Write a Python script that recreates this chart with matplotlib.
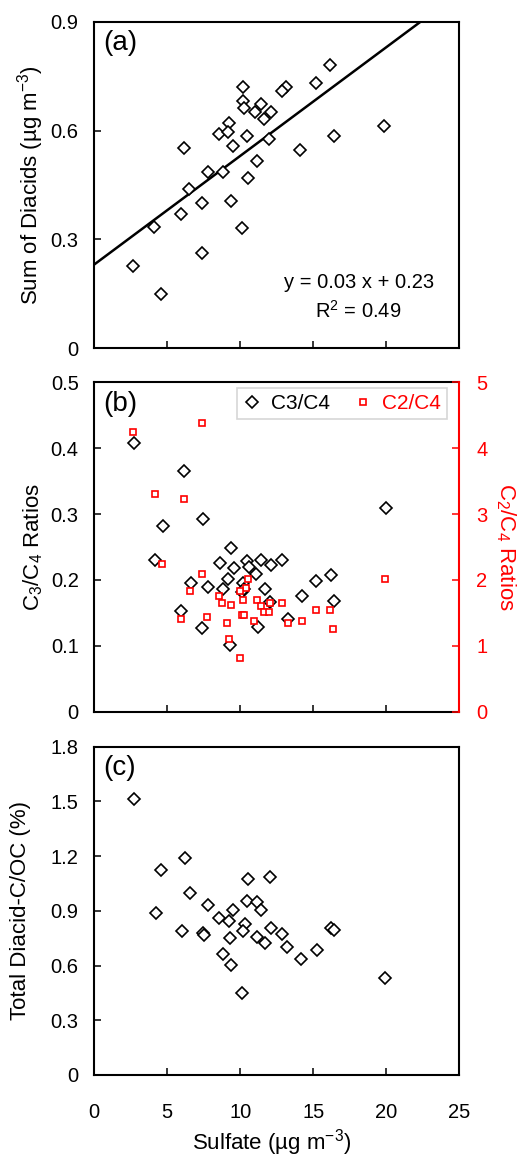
import matplotlib
matplotlib.use('Agg')
import matplotlib.pyplot as plt

plt.rcParams['font.family'] = ['Liberation Sans', 'DejaVu Sans']
plt.rcParams['mathtext.fontset'] = 'custom'
plt.rcParams['mathtext.rm'] = 'Liberation Sans'
plt.rcParams['mathtext.it'] = 'Liberation Sans:italic'
plt.rcParams['mathtext.bf'] = 'Liberation Sans:bold'
plt.rcParams['mathtext.default'] = 'regular'

# ---------------- data ----------------
# (a) Sum of diacids vs sulfate
sulfate_a = [16.17, 15.21, 10.16, 13.16, 12.86, 10.20, 10.27, 11.45, 11.04, 12.14,
             11.63, 9.24, 8.56, 9.17, 10.47, 11.97, 6.15, 9.52, 19.81, 16.39,
             14.12, 11.16, 7.81, 8.79, 10.54, 6.49, 7.42, 9.34, 5.92, 4.12,
             10.09, 7.42, 2.64, 4.58]
diacids_a = [0.780, 0.730, 0.719, 0.719, 0.709, 0.681, 0.663, 0.672, 0.650, 0.652,
             0.632, 0.621, 0.590, 0.595, 0.586, 0.576, 0.553, 0.558, 0.613, 0.586,
             0.546, 0.517, 0.486, 0.486, 0.470, 0.438, 0.401, 0.405, 0.370, 0.335,
             0.330, 0.261, 0.226, 0.148]
fit_slope = 0.03
fit_intercept = 0.23
fit_x = [0.0, 25.0]

# (b) C3/C4 ratios
sulfate_c3 = [2.75, 6.17, 19.95, 7.47, 4.69, 9.40, 4.17, 8.61, 10.47, 11.41,
              12.89, 12.09, 9.56, 10.61, 11.07, 9.17, 16.24, 15.21, 6.63, 10.16,
              7.81, 8.79, 11.73, 10.09, 10.25, 14.25, 12.02, 16.41, 5.94, 13.26,
              7.42, 11.22, 9.29]
c3c4 = [0.408, 0.365, 0.309, 0.292, 0.282, 0.248, 0.231, 0.226, 0.229, 0.231,
        0.231, 0.223, 0.218, 0.220, 0.209, 0.202, 0.207, 0.198, 0.196, 0.196,
        0.189, 0.186, 0.187, 0.182, 0.187, 0.176, 0.167, 0.168, 0.153, 0.141,
        0.127, 0.128, 0.102]
# (b) C2/C4 ratios (right axis)
sulfate_c2 = [2.69, 7.40, 4.17, 6.13, 4.64, 7.40, 19.88, 10.52, 6.60, 10.38,
              10.02, 8.56, 10.20, 11.18, 8.74, 9.34, 12.07, 12.84, 11.39, 11.61,
              11.97, 15.21, 16.17, 5.92, 7.74, 10.09, 10.25, 9.13, 10.94, 13.24,
              14.23, 16.37, 9.24, 10.02]
c2c4 = [4.25, 4.38, 3.30, 3.23, 2.25, 2.09, 2.01, 2.01, 1.84, 1.88,
        1.83, 1.76, 1.69, 1.70, 1.65, 1.62, 1.65, 1.65, 1.60, 1.51,
        1.51, 1.55, 1.55, 1.41, 1.44, 1.47, 1.47, 1.34, 1.37, 1.34,
        1.37, 1.25, 1.10, 0.82]

# (c) Total diacid-C / OC (%)
sulfate_c = [2.73, 6.22, 4.58, 10.50, 12.02, 6.60, 7.81, 10.47, 11.16, 9.52,
             11.41, 4.21, 8.56, 9.22, 10.31, 10.20, 12.09, 12.86, 16.19, 16.42,
             5.99, 7.47, 7.54, 9.29, 11.18, 11.73, 13.21, 15.28, 8.79, 14.19,
             9.40, 19.90, 10.09]
diacid_oc = [1.511, 1.191, 1.124, 1.075, 1.084, 0.996, 0.932, 0.956, 0.947, 0.905,
             0.905, 0.886, 0.859, 0.844, 0.828, 0.789, 0.804, 0.773, 0.804, 0.795,
             0.789, 0.777, 0.768, 0.749, 0.758, 0.722, 0.700, 0.685, 0.662, 0.634,
             0.603, 0.534, 0.451]

x_ticks = [0, 5, 10, 15, 20, 25]
x_ticklabels = ['0', '5', '10', '15', '20', '25']
ya_ticks = [0, 0.3, 0.6, 0.9]
ya_ticklabels = ['0', '0.3', '0.6', '0.9']
yb_ticks = [0, 0.1, 0.2, 0.3, 0.4, 0.5]
yb_ticklabels = ['0', '0.1', '0.2', '0.3', '0.4', '0.5']
yb2_ticks = [0, 1, 2, 3, 4, 5]
yb2_ticklabels = ['0', '1', '2', '3', '4', '5']
yc_ticks = [0, 0.3, 0.6, 0.9, 1.2, 1.5, 1.8]
yc_ticklabels = ['0', '0.3', '0.6', '0.9', '1.2', '1.5', '1.8']

# ---------------- style ----------------
TICK_FS = 14.5
LABEL_FS = 16
PANEL_FS = 20
RED = '#ff0000'
dia = dict(marker='D', ms=5.7, mfc='white', mec='black', mew=1.2, ls='none')
sq = dict(marker='s', ms=4.8, mfc='white', mec=RED, mew=1.2, ls='none')

fig = plt.figure(figsize=(5.18, 11.59), dpi=100)
L, W = 0.1815, 0.7055
ax_a = fig.add_axes([L, 0.6997, W, 0.2815])
ax_b = fig.add_axes([L, 0.3859, W, 0.2842])
ax_c = fig.add_axes([L, 0.0725, W, 0.2833])


def style(ax, yt, ytl, ylim, show_x):
    ax.set_xlim(0, 25)
    ax.set_ylim(*ylim)
    ax.set_xticks(x_ticks)
    ax.set_xticklabels(x_ticklabels if show_x else [])
    ax.set_yticks(yt)
    ax.set_yticklabels(ytl)
    ax.tick_params(direction='in', length=5, width=1.1, labelsize=TICK_FS,
                   top=False, right=False)
    ax.tick_params(axis='y', pad=11)
    ax.tick_params(axis='x', pad=20)
    for s in ax.spines.values():
        s.set_linewidth(1.5)


# (a)
ax_a.plot(sulfate_a, diacids_a, **dia, zorder=3)
ax_a.plot(fit_x, [fit_slope * v + fit_intercept for v in fit_x], color='black', lw=1.8, zorder=2)
style(ax_a, ya_ticks, ya_ticklabels, (0, 0.9), False)
ax_a.set_ylabel(r'Sum of Diacids (µg m$^{-3}$)', fontsize=LABEL_FS, va='center')
ax_a.yaxis.set_label_coords(-0.175, 0.5)
ax_a.text(0.025, 0.975, '(a)', transform=ax_a.transAxes, fontsize=PANEL_FS, ha='left', va='top')
ax_a.text(18.1, 0.1655, 'y = 0.03 x + 0.23', fontsize=14.5, ha='center', va='baseline')
ax_a.text(18.05, 0.0827, r'R$^2$ = 0.49', fontsize=14.5, ha='center', va='baseline')

# (b)
h1, = ax_b.plot(sulfate_c3, c3c4, **dia, zorder=3, label='C3/C4')
style(ax_b, yb_ticks, yb_ticklabels, (0, 0.5), False)
ax_b.set_ylabel(r'C$_3$/C$_4$ Ratios', fontsize=LABEL_FS, va='center')
ax_b.yaxis.set_label_coords(-0.167, 0.5)
ax_b.text(0.025, 0.975, '(b)', transform=ax_b.transAxes, fontsize=PANEL_FS, ha='left', va='top')
ax_b2 = ax_b.twinx()
h2, = ax_b2.plot(sulfate_c2, c2c4, **sq, zorder=3, label='C2/C4')
ax_b2.set_ylim(0, 5)
ax_b2.set_yticks(yb2_ticks)
ax_b2.set_yticklabels(yb2_ticklabels)
ax_b2.tick_params(axis='y', direction='in', length=5, width=1.1, labelsize=TICK_FS,
                  colors=RED, pad=12)
for k, s in ax_b2.spines.items():
    s.set_visible(k == 'right')
ax_b2.spines['right'].set_color(RED)
ax_b2.spines['right'].set_linewidth(1.5)
ax_b.spines['right'].set_visible(False)
ax_b2.set_ylabel(r'C$_2$/C$_4$ Ratios', fontsize=LABEL_FS, color=RED, rotation=270, va='center')
ax_b2.yaxis.set_label_coords(1.128, 0.5)
leg = ax_b2.legend([h1, h2], ['C3/C4', 'C2/C4'], loc='upper right', ncol=2,
                   bbox_to_anchor=(0.966, 0.983), borderaxespad=0, fontsize=15,
                   frameon=True, fancybox=False, edgecolor='#cccccc',
                   handlelength=0.8, handletextpad=0.5, columnspacing=1.2,
                   borderpad=0.3)
leg.get_frame().set_linewidth(1.2)
leg.get_texts()[1].set_color(RED)

# (c)
ax_c.plot(sulfate_c, diacid_oc, **dia, zorder=3)
style(ax_c, yc_ticks, yc_ticklabels, (0, 1.8), True)
ax_c.set_ylabel('Total Diacid-C/OC (%)', fontsize=LABEL_FS, va='center')
ax_c.yaxis.set_label_coords(-0.2, 0.5)
ax_c.set_xlabel(r'Sulfate (µg m$^{-3}$)', fontsize=LABEL_FS, va='center')
ax_c.xaxis.set_label_coords(0.485, -0.207)
ax_c.text(0.025, 0.975, '(c)', transform=ax_c.transAxes, fontsize=PANEL_FS, ha='left', va='top')

fig.savefig('out.png', dpi=100)
